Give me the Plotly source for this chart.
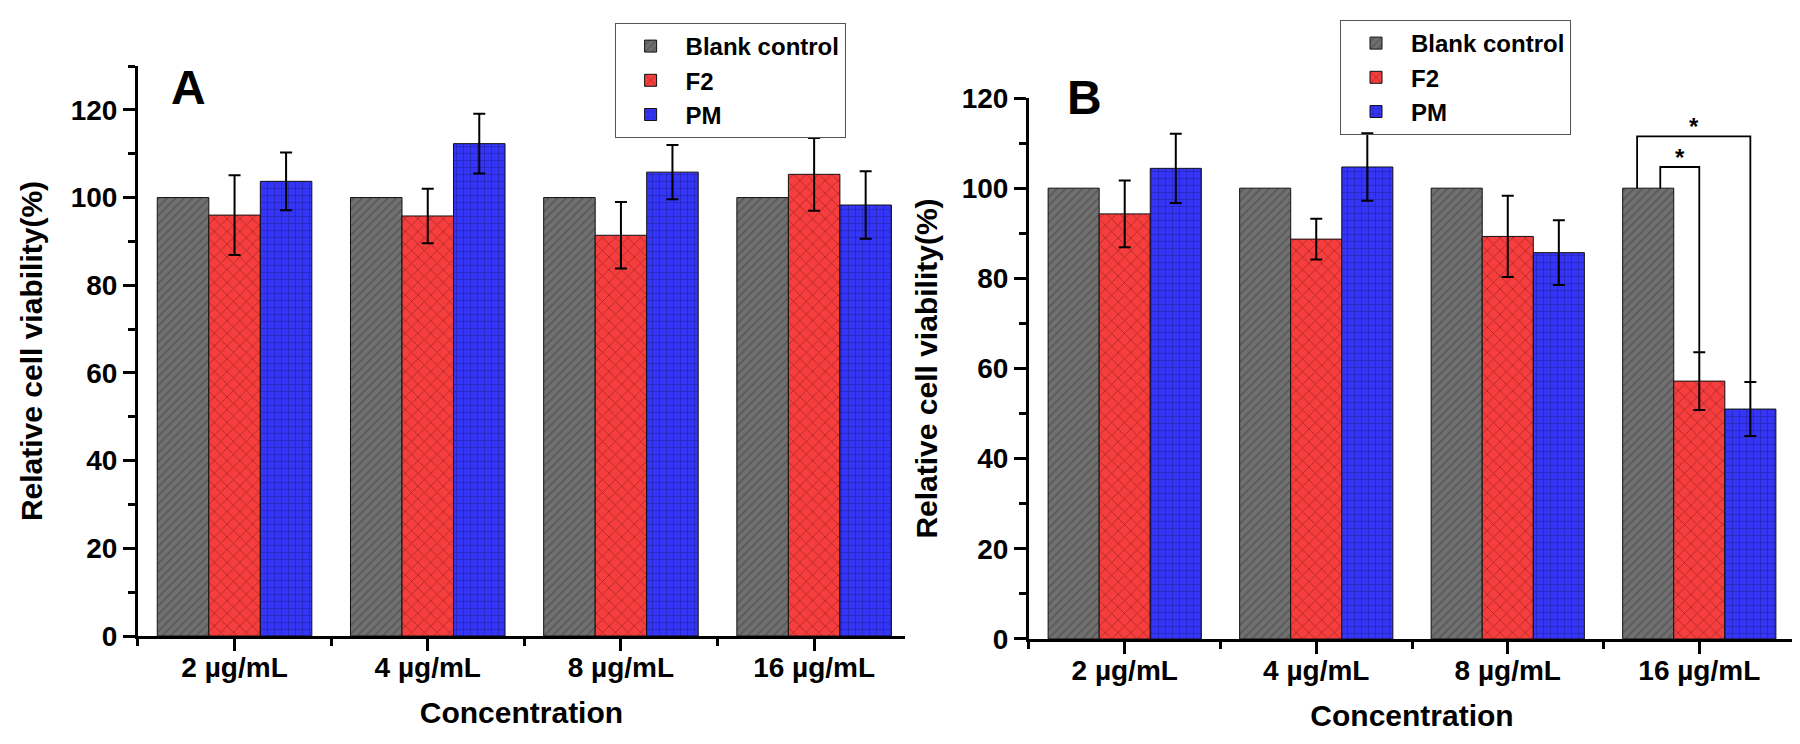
import plotly.graph_objects as go

# Data (mean and error in %).
concentrations = ["2 µg/mL", "4 µg/mL", "8 µg/mL", "16 µg/mL"]
series_names = ["Blank control", "F2", "PM"]

blank_a = [100, 100, 100, 100]
f2_a = [96.0, 95.8, 91.4, 105.3]
f2_a_err = [9.1, 6.2, 7.6, 8.3]
pm_a = [103.7, 112.3, 105.8, 98.3]
pm_a_err = [6.6, 6.8, 6.2, 7.7]

blank_b = [100, 100, 100, 100]
f2_b = [94.3, 88.7, 89.3, 57.2]
f2_b_err = [7.4, 4.5, 9.0, 6.4]
pm_b = [104.4, 104.7, 85.7, 51.0]
pm_b_err = [7.7, 7.5, 7.2, 6.0]

FONT = "Liberation Sans, Arial, sans-serif"
BARGAP = 0.2

styles = [
    dict(color="#707070", pattern=dict(shape="/", fgcolor="#404040", size=6,
                                       solidity=0.28, fillmode="overlay")),
    dict(color="#f63e3e", pattern=dict(shape="x", fgcolor="#6a1010", size=9,
                                       solidity=0.18, fillmode="overlay")),
    dict(color="#3535f8", pattern=dict(shape="+", fgcolor="#10105e", size=7,
                                       solidity=0.18, fillmode="overlay")),
]

x_idx = list(range(len(concentrations)))
fig = go.Figure()


def add_panel(xa, ya, legend, values, errors):
    for name, vals, err, st in zip(series_names, values, errors, styles):
        error_y = None
        if err is not None:
            error_y = dict(type="data", array=err, color="black",
                           thickness=2, width=6)
        fig.add_trace(go.Bar(
            x=x_idx, y=vals, name=name, xaxis=xa, yaxis=ya, legend=legend,
            marker=dict(color=st["color"], pattern=st["pattern"],
                        line=dict(color="#111111", width=1)),
            error_y=error_y,
        ))


add_panel("x", "y", "legend", [blank_a, f2_a, pm_a], [None, f2_a_err, pm_a_err])
add_panel("x2", "y2", "legend2", [blank_b, f2_b, pm_b], [None, f2_b_err, pm_b_err])

tick_font = dict(family=FONT, size=28, color="black", weight="bold")


def xaxis_style(domain, rng):
    return dict(
        domain=domain, range=rng, showline=True, linewidth=3, linecolor="black",
        ticks="outside", ticklen=12, tickwidth=3, tickcolor="black",
        tickvals=x_idx, ticktext=concentrations, tickfont=tick_font,
        ticklabelstandoff=-8,
        minor=dict(ticks="outside", ticklen=7, tickwidth=2.5, tickcolor="black",
                   tick0=0.5, dtick=1),
        showgrid=False, zeroline=False, automargin=False,
        title=dict(text="Concentration", standoff=21,
                   font=dict(family=FONT, size=30, color="black", weight="bold")),
    )


def yaxis_style(domain, rng, standoff):
    return dict(
        domain=domain, range=rng, showline=True, linewidth=3, linecolor="black",
        ticks="outside", ticklen=12, tickwidth=3, tickcolor="black",
        tick0=0, dtick=20, tickfont=tick_font,
        minor=dict(ticks="outside", ticklen=7, tickwidth=2.5, tickcolor="black",
                   dtick=10),
        showgrid=False, zeroline=False, automargin=False,
        title=dict(text="Relative cell viability(%)", standoff=standoff,
                   font=dict(family=FONT, size=30, color="black", weight="bold")),
    )


legend_style = dict(
    font=dict(family=FONT, size=24, color="black", weight="bold"),
    bordercolor="#555555", borderwidth=1, bgcolor="rgba(255,255,255,0)",
    xanchor="left", yanchor="top", itemwidth=60, tracegroupgap=0,
    traceorder="normal",
)

fig.update_layout(
    width=1800, height=744,
    margin=dict(l=0, r=0, t=0, b=0),
    paper_bgcolor="white", plot_bgcolor="white",
    barmode="group", bargap=BARGAP, bargroupgap=0,
    font=dict(family=FONT, color="black"),
    xaxis=xaxis_style([0.0722, 0.4983], [-0.5, 3.47]),
    yaxis=yaxis_style([0.1559, 0.922], [0, 130], 20),
    xaxis2=xaxis_style([0.5672, 0.9928], [-0.5, 3.5]),
    yaxis2=yaxis_style([0.1519, 0.879], [0, 120], 16),
    legend=dict(legend_style, x=0.337, y=1 - 15 / 744),
    legend2=dict(legend_style, x=0.74, y=1 - 12 / 744),
    showlegend=True,
)
fig.update_layout(xaxis2_anchor="y2", yaxis2_anchor="x2")

# Panel letters
for letter, px_x, px_y in [("A", 161, 51), ("B", 1076, 61)]:
    fig.add_annotation(text=letter, xref="paper", yref="paper",
                       x=px_x / 1800, y=1 - px_y / 744, showarrow=False,
                       font=dict(family=FONT, size=48, color="black", weight="bold"))

# Significance brackets at 16 µg/mL in panel B
bar_w = (1 - BARGAP) / 3
g = 3
brackets = [
    # (left x, left y, top y, right x, right y)
    (g - bar_w - 0.058, blank_b[g], 111.5, g + bar_w, pm_b[g] + pm_b_err[g]),
    (g - bar_w + 0.063, blank_b[g], 104.7, g, f2_b[g] + f2_b_err[g]),
]
for x0, y0, yh, x1, y1 in brackets:
    fig.add_shape(type="path", xref="x2", yref="y2",
                  path=f"M {x0},{y0} L {x0},{yh} L {x1},{yh} L {x1},{y1}",
                  line=dict(color="black", width=1.8))
    fig.add_annotation(text="*", xref="x2", yref="y2", x=(x0 + x1) / 2, y=yh,
                       yanchor="bottom", showarrow=False, yshift=-6,
                       font=dict(family=FONT, size=24, color="black", weight="bold"))

fig.write_html("out.html")
